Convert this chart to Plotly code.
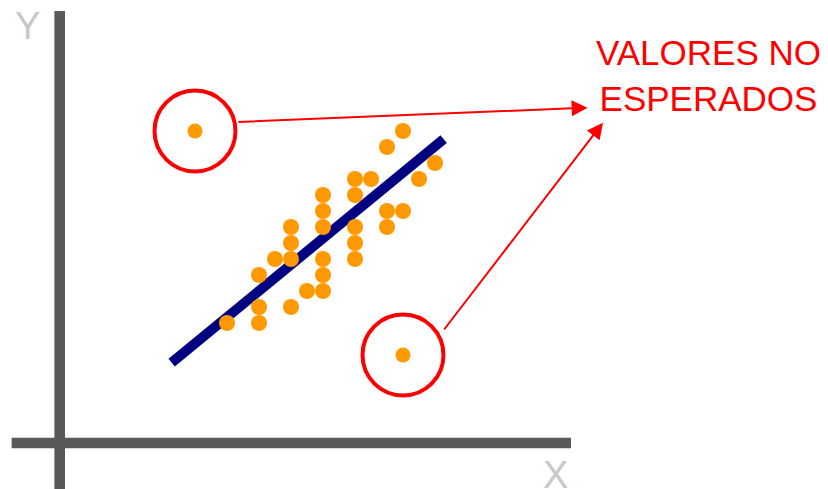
import plotly.graph_objects as go

# Scatter points (grid units)
points_x = [25, 24, 27, 26, 22, 23, 20, 22, 20, 24, 25, 18, 20, 22, 24, 18, 22,
            17, 18, 20, 22, 16, 20, 19, 20, 16, 18, 14, 16]
points_y = [20, 19, 18, 17, 17, 17, 16, 16, 15, 15, 15, 14, 14, 14, 14, 13, 13,
            12, 12, 12, 12, 11, 11, 10, 10, 9, 9, 8, 8]

# Unexpected values (outliers)
outlier_x = [12, 25]
outlier_y = [20, 6]

# Regression line end points
reg_x = [10.54, 27.54]
reg_y = [5.52, 19.49]

# Labels
label_text = "VALORES NO<br>ESPERADOS"
axis_x_label = "X"
axis_y_label = "Y"

ORANGE = "#ff9900"
NAVY = "#000080"
RED = "#ff0000"
GREY = "#595959"
LIGHT = "#c8c8c8"

fig = go.Figure()

fig.add_trace(go.Scatter(x=reg_x, y=reg_y, mode="lines",
                         line=dict(color=NAVY, width=10), hoverinfo="skip"))
fig.add_trace(go.Scatter(x=points_x, y=points_y, mode="markers",
                         marker=dict(color=ORANGE, size=16, line=dict(width=0))))
fig.add_trace(go.Scatter(x=outlier_x, y=outlier_y, mode="markers",
                         marker=dict(color=ORANGE, size=15, line=dict(width=0))))

shapes = [
    # axes bars
    dict(type="rect", xref="x", yref="y", x0=3.21, x1=3.875, y0=-3, y1=27.5,
         fillcolor=GREY, line=dict(width=0), layer="below"),
    dict(type="rect", xref="x", yref="y", x0=0.54, x1=35.5, y0=0.169, y1=0.831,
         fillcolor=GREY, line=dict(width=0), layer="below"),
]
for ox, oy in zip(outlier_x, outlier_y):
    r = 2.53
    shapes.append(dict(type="circle", xref="x", yref="y", x0=ox - r, x1=ox + r,
                       y0=oy - r, y1=oy + r, line=dict(color=RED, width=4)))

annotations = [
    dict(x=36.54, y=21.46, ax=14.625, ay=20.56, xref="x", yref="y", axref="x", ayref="y",
         text="", showarrow=True, arrowhead=2, arrowsize=1.6, arrowwidth=2,
         arrowcolor=RED, standoff=0, startstandoff=0),
    dict(x=37.5, y=20.52, ax=27.5, ay=7.5, xref="x", yref="y", axref="x", ayref="y",
         text="", showarrow=True, arrowhead=2, arrowsize=1.6, arrowwidth=2,
         arrowcolor=RED, standoff=0, startstandoff=0),
    dict(x=44.07, y=23.5, xref="x", yref="y", text=label_text, showarrow=False,
         font=dict(family="Liberation Sans", size=35, color=RED), align="center"),
    dict(x=1.56, y=26.56, xref="x", yref="y", text=axis_y_label, showarrow=False,
         font=dict(family="Liberation Sans", size=38, color=LIGHT)),
    dict(x=34.56, y=-1.5, xref="x", yref="y", text=axis_x_label, showarrow=False,
         font=dict(family="Liberation Sans", size=38, color=LIGHT)),
]

fig.update_layout(
    width=828, height=489,
    margin=dict(l=0, r=0, t=0, b=0),
    paper_bgcolor="white", plot_bgcolor="white",
    showlegend=False,
    shapes=shapes, annotations=annotations,
    xaxis=dict(range=[0.3125, 52.0625], visible=False, fixedrange=True),
    yaxis=dict(range=[-2.875, 27.6875], visible=False, fixedrange=True),
)

fig.write_html("out.html")
